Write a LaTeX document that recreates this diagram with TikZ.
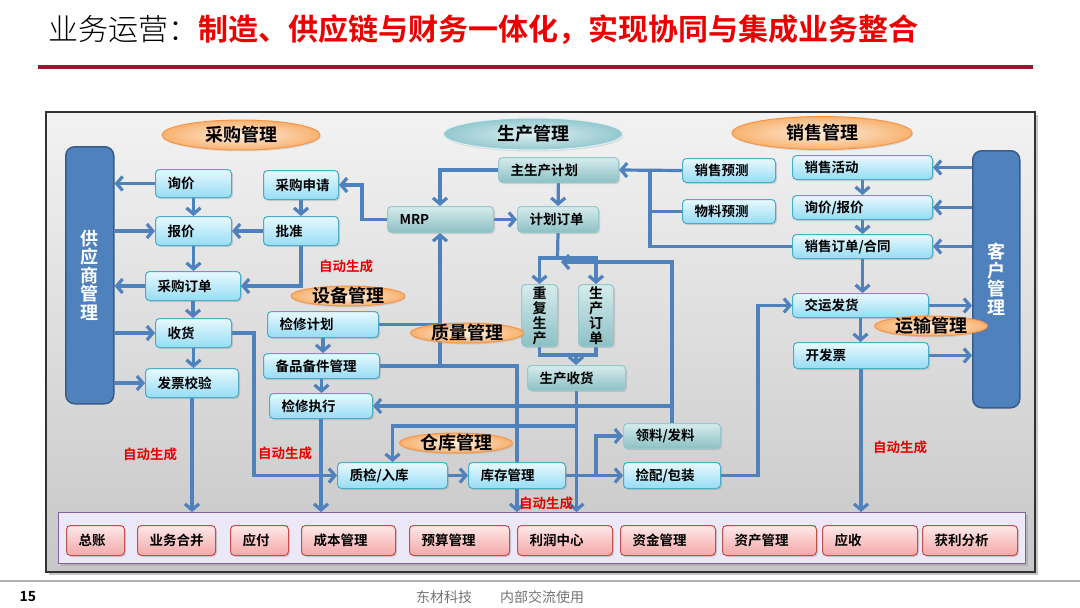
\documentclass[tikz,border=0pt]{standalone}
\usepackage{fontspec}
\setmainfont{Noto Sans CJK SC}[BoldFont={Noto Sans CJK SC Bold}]
\IfFontExistsTF{Noto Sans CJK SC Light}
    {\newfontfamily\lightcjk{Noto Sans CJK SC Light}}
    {\newfontfamily\lightcjk{Noto Sans CJK SC}}
\usetikzlibrary{arrows.meta,shapes.geometric,shadows}

\definecolor{flowblue}{RGB}{79,129,189}
\definecolor{boxline}{RGB}{75,172,198}
\definecolor{boxtop}{RGB}{232,249,254}
\definecolor{boxbot}{RGB}{150,220,244}
\definecolor{tealline}{RGB}{150,200,204}
\definecolor{tealtop}{RGB}{214,236,237}
\definecolor{tealbot}{RGB}{140,192,196}
\definecolor{pinkline}{RGB}{192,80,77}
\definecolor{pinktop}{RGB}{255,232,232}
\definecolor{pinkbot}{RGB}{244,168,168}
\definecolor{ovalline}{RGB}{247,150,70}
\definecolor{ovalin}{RGB}{254,238,222}
\definecolor{ovalout}{RGB}{248,178,112}
\definecolor{ovaltin}{RGB}{222,240,242}
\definecolor{ovaltout}{RGB}{146,200,206}
\definecolor{sideblue}{RGB}{79,129,189}
\definecolor{sideline}{RGB}{56,93,138}
\definecolor{barfill}{RGB}{236,232,247}
\definecolor{barline}{RGB}{128,100,162}
\definecolor{titlered}{RGB}{235,0,0}
\definecolor{ruleline}{RGB}{160,18,48}

\pgfdeclarelayer{back}
\pgfdeclarelayer{wires}
\pgfsetlayers{back,wires,main}

\tikzset{
    box/.style={draw=boxline, line width=1pt, rounded corners=4pt,
        top color=boxtop, bottom color=boxbot, inner xsep=12pt, inner ysep=0pt,
        align=left, font=\bfseries\fontsize{13.5}{15}\selectfont,
        drop shadow={opacity=0.25, shadow xshift=1.5pt, shadow yshift=-1.5pt}},
    tealbox/.style={box, draw=tealline, top color=tealtop, bottom color=tealbot},
    finbox/.style={box, draw=pinkline, top color=pinktop, bottom color=pinkbot},
    sidebox/.style={draw=sideline, line width=1.5pt, fill=sideblue, rounded corners=9pt,
        text=white, align=center, font=\bfseries\fontsize{18}{18.5}\selectfont, anchor=north west},
    oval/.style={ellipse, draw=ovalline, line width=1pt, inner color=ovalin, outer color=ovalout,
        inner sep=0pt, drop shadow={opacity=0.2, shadow xshift=1pt, shadow yshift=-1.5pt}},
    tealoval/.style={oval, draw=ovaltin, inner color=ovaltin, outer color=ovaltout},
    ovaltext/.style={font=\bfseries\fontsize{18}{20}\selectfont, inner sep=0pt},
    autogen/.style={text=titlered, font=\bfseries\fontsize{13.5}{15}\selectfont, inner sep=0pt},
    line/.style={draw=flowblue, line width=3.2pt},
    flow/.style={line, -{Straight Barb[length=6pt,width=14pt]}}
}

\newcommand{\bx}[7][box]{% style, name, x, y, width, height, text
    \pgfmathsetmacro{\bxw}{#5-24}
    \node[#1, text width=\bxw pt, minimum height=#6, anchor=north west] (#2) at (#3,#4) {#7};
}
\newcommand{\ov}[6][oval]{% style, name, x, y, width, text (height 20)
    \node[#1, minimum width=#5, minimum height=20, label={[ovaltext]center:#6}] (#2) at (#3,#4) {};
}

\begin{document}
\begin{tikzpicture}[x=1pt,y=-1pt]
    \useasboundingbox (0,0) rectangle (1080,608);

    % Title
    \node[anchor=west, inner sep=0pt, font=\fontsize{30}{32}\selectfont] (title) at (48,30)
        {{\lightcjk 业务运营：}\textcolor{titlered}{\bfseries 制造、供应链与财务一体化，实现协同与集成业务整合}};
    \draw[ruleline, line width=3.5pt] (38,67) -- (1033,67);

    % Frame
    \begin{pgfonlayer}{back}
        \draw[black!80, line width=1.5pt, top color=black!5, bottom color=black!22,
            drop shadow={opacity=0.45, shadow xshift=3pt, shadow yshift=-3pt}]
            (46,112) rectangle (1035,572);
    \end{pgfonlayer}

    % Suppliers and customers
    \node[sidebox, minimum width=48, minimum height=257] (supplier) at (65,146)
        {供\\应\\商\\管\\理};
    \node[sidebox, minimum width=47, minimum height=257] (customer) at (972,150)
        {客\\户\\管\\理};

    % Purchasing
    \bx{xunjia}{155}{169}{76}{28}{询价}
    \bx{baojia}{155}{216}{76}{29}{报价}
    \bx{cgdd}{145}{271}{95}{29}{采购订单}
    \bx{shouhuo}{155}{318}{76}{29}{收货}
    \bx{fpjy}{145}{368}{93}{29}{发票校验}
    \bx{cgsq}{263}{170}{75}{29}{采购申请}
    \bx{pizhun}{263}{216}{75}{29}{批准}

    % Equipment
    \bx{jxjh}{267}{311}{111}{26}{检修计划}
    \bx{bpbj}{263}{353}{116}{25}{备品备件管理}
    \bx{jxzx}{269}{393}{103}{25}{检修执行}

    % Production
    \bx[tealbox]{mps}{498}{157}{120}{25}{主生产计划}
    \bx[tealbox]{mrp}{387}{206}{106}{26}{MRP}
    \bx[tealbox]{jhdd}{517}{206}{81}{26}{计划订单}
    \node[tealbox, align=center, inner xsep=0pt, minimum width=36, minimum height=62,
        anchor=north west, font=\bfseries\fontsize{14}{15}\selectfont] (cfsc) at (521,284) {重\\复\\生\\产};
    \node[tealbox, align=center, inner xsep=0pt, minimum width=35, minimum height=62,
        anchor=north west, font=\bfseries\fontsize{14}{15}\selectfont] (scdd) at (578,284) {生\\产\\订\\单};
    \bx[tealbox]{scsh}{527}{365}{98}{25}{生产收货}

    % Warehouse
    \bx{zjrk}{337}{462}{110}{26}{质检/入库}
    \bx{kcgl}{468}{462}{97}{26}{库存管理}
    \bx[tealbox]{llfl}{623}{423}{97}{25}{领料/发料}
    \bx{jpbz}{623}{462}{97}{26}{捡配/包装}

    % Sales
    \bx{xsyc}{682}{158}{93}{24}{销售预测}
    \bx{wlyc}{682}{199}{93}{24}{物料预测}
    \bx{xshd}{792}{155}{140}{24}{销售活动}
    \bx{xjbj}{792}{195}{140}{24}{询价/报价}
    \bx{xsdd}{792}{234}{140}{24}{销售订单/合同}
    \bx{jyfh}{792}{293}{136}{24}{交运发货}
    \bx{kfp}{793}{342}{135}{26}{开发票}

    % Finance
    \node[draw=barline, line width=1pt, fill=barfill, minimum width=967, minimum height=51,
        anchor=north west, drop shadow={opacity=0.3, shadow xshift=2pt, shadow yshift=-2pt}]
        (fin) at (58,512) {};
    \bx[finbox]{zz}{66}{525}{58}{30}{总账}
    \bx[finbox]{ywhb}{137}{525}{78}{30}{业务合并}
    \bx[finbox]{yf}{230}{525}{58}{30}{应付}
    \bx[finbox]{cbgl}{301}{525}{94}{30}{成本管理}
    \bx[finbox]{ysgl}{409}{525}{100}{30}{预算管理}
    \bx[finbox]{lrzx}{517}{525}{95}{30}{利润中心}
    \bx[finbox]{zjgl}{620}{525}{95}{30}{资金管理}
    \bx[finbox]{zcgl}{722}{525}{94}{30}{资产管理}
    \bx[finbox]{ys}{822}{525}{95}{30}{应收}
    \bx[finbox]{hlfx}{922}{525}{95}{30}{获利分析}

    % Areas
    \node[oval, minimum width=158, minimum height=30, label={[ovaltext]center:采购管理}] (caigou) at (241,135) {};
    \node[tealoval, minimum width=179, minimum height=32, label={[ovaltext]center:生产管理}] (shengchan) at (533,134) {};
    \node[oval, minimum width=180, minimum height=33, label={[ovaltext]center:销售管理}] (xiaoshou) at (822,133) {};
    \ov{shebei}{348}{296}{114}{设备管理}
    \ov{zhiliang}{467}{333}{113}{质量管理}
    \ov{cangku}{456}{443}{113}{仓库管理}
    \ov{yunshu}{931}{326}{113}{运输管理}

    % Auto-generated postings
    \node[autogen] (auto1) at (346,266) {自动生成};
    \node[autogen] (auto2) at (150,454) {自动生成};
    \node[autogen] (auto3) at (285,453) {自动生成};
    \node[autogen] (auto4) at (546,503) {自动生成};
    \node[autogen] (auto5) at (900,447) {自动生成};

    % Junctions
    \coordinate (qa) at (440,365.5);
    \coordinate (drop1) at (517,512);
    \coordinate (split) at (557.5,258);
    \coordinate (merge) at (561,262);
    \coordinate (join) at (576,355);
    \coordinate (wh) at (576,426);
    \coordinate (fc) at (650,170);

    \begin{pgfonlayer}{wires}
        % Purchasing flows
        \draw[flow] (xunjia.west) -- (xunjia.west -| supplier.east);
        \draw[flow] (supplier.east |- baojia.west) -- (baojia.west);
        \draw[flow] (xunjia) -- (baojia);
        \draw[flow] (cgsq) -- (pizhun);
        \draw[flow] (pizhun) -- (baojia);
        \draw[flow] (baojia.south) -- (baojia.south |- cgdd.north);
        \draw[flow] (pizhun.south) |- (cgdd.east);
        \draw[flow] (cgdd.west) -- (cgdd.west -| supplier.east);
        \draw[flow] (cgdd.south) -- (cgdd.south |- shouhuo.north);
        \draw[flow] (supplier.east |- shouhuo.west) -- (shouhuo.west);
        \draw[flow] (shouhuo.south) -- (shouhuo.south |- fpjy.north);
        \draw[flow] (supplier.east |- fpjy.west) -- (fpjy.west);
        \draw[flow] (fpjy.south) -- (fpjy.south |- fin.north);
        \draw[flow] (shouhuo.east) -- ++(22,0) |- (zjrk.west);

        % Equipment flows
        \draw[flow] (jxjh.south) -- (jxjh.south |- bpbj.north);
        \draw[flow] (bpbj.south) -- (bpbj.south |- jxzx.north);
        \draw[flow] (jxzx.south) -- (jxzx.south |- fin.north);
        \draw[line] (jxjh.east) -| (qa);
        \draw[flow] (bpbj.east) -| (drop1);
        \draw[flow] (qa) -- (qa |- mrp.south);

        % Production flows
        \draw[flow] (mps.west) -| (qa |- mrp.north);
        \draw[flow] (mps) -- (jhdd);
        \draw[flow] (mrp) -- (jhdd);
        \draw[flow] (mrp.west) -- ++(-25,0) |- (cgsq.east);
        \draw[line] (jhdd.south) -- (split);
        \draw[flow] (split) -| (cfsc.north);
        \draw[flow] (split) -| (scdd.north);
        \draw[flow] (llfl.north) |- (merge);
        \draw[flow] (llfl.north |- jxzx.east) -- (jxzx.east);
        \draw[line] (cfsc.south) |- (join);
        \draw[line] (scdd.south) |- (join);
        \draw[flow] (join) -- (join |- scsh.north);
        \draw[flow] (scsh.south) -- (scsh.south |- fin.north);
        \draw[flow] (wh) -| (zjrk.north);

        % Warehouse flows
        \draw[flow] (zjrk) -- (kcgl);
        \draw[flow] (kcgl) -- (jpbz);
        \draw[flow] (kcgl.east) -- ++(30,0) |- (llfl.west);
        \draw[flow] (jpbz.east) -- ++(37,0) |- (jyfh.west);

        % Sales flows
        \draw[flow] (customer.west |- xshd.east) -- (xshd.east);
        \draw[flow] (customer.west |- xjbj.east) -- (xjbj.east);
        \draw[flow] (customer.west |- xsdd.east) -- (xsdd.east);
        \draw[flow] (xshd.south) -- (xshd.south |- xjbj.north);
        \draw[flow] (xjbj.south) -- (xjbj.south |- xsdd.north);
        \draw[flow] (xsdd.south) -- (xsdd.south |- jyfh.north);
        \draw[flow] (jyfh.south) -- (jyfh.south |- kfp.north);
        \draw[flow] (jyfh.east) -- (jyfh.east -| customer.west);
        \draw[flow] (kfp.east) -- (kfp.east -| customer.west);
        \draw[flow] (kfp.south) -- (kfp.south |- fin.north);
        \draw[flow] (xsyc.west) -- (mps.east);
        \draw[line] (wlyc.west) -- (wlyc.west -| fc);
        \draw[line] (xsdd.west) -| (fc);
    \end{pgfonlayer}

    % Footer
    \draw[black!30, line width=2pt] (0,581) -- (1080,581);
    \node[anchor=west, font=\bfseries\fontsize{14}{16}\selectfont] (pageno) at (16,597) {15};
    \node[text=black!55, font=\fontsize{14}{16}\selectfont] (footer) at (500,597)
        {东材科技\hspace{2em}内部交流使用};
\end{tikzpicture}
\end{document}
